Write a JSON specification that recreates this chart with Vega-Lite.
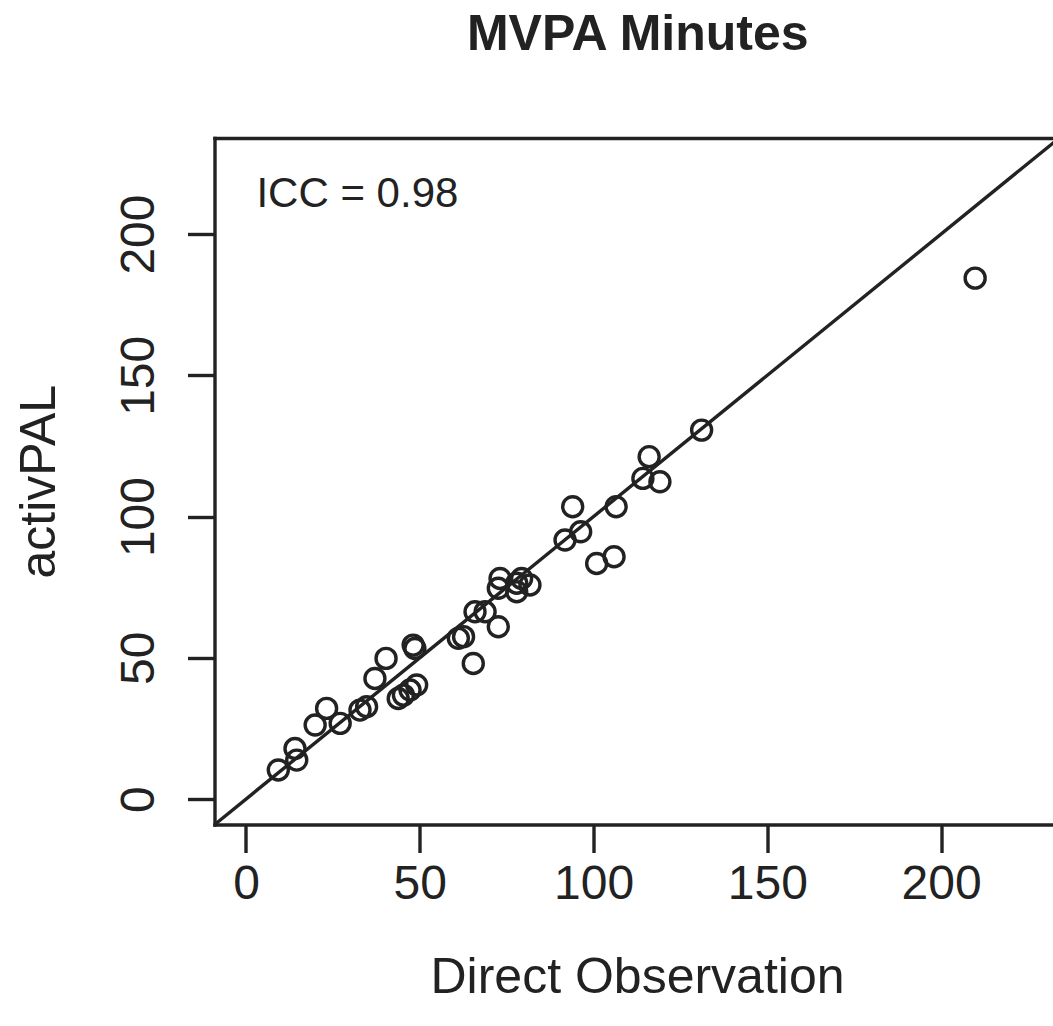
{
  "$schema": "https://vega.github.io/schema/vega-lite/v6.json",
  "width": 838.5,
  "height": 686.5,
  "autosize": {"type": "none"},
  "padding": {"left": 214.5, "top": 138, "right": 0, "bottom": 201.5},
  "background": "white",
  "title": {
    "text": "MVPA Minutes",
    "fontSize": 50,
    "fontWeight": "bold",
    "font": "Liberation Sans",
    "color": "#222222",
    "anchor": "middle",
    "baseline": "alphabetic",
    "offset": 38,
    "dx": 4
  },
  "config": {
    "view": {"stroke": null},
    "font": "Liberation Sans"
  },
  "datasets": {
    "diag": [
      {"x": -30, "y": -30},
      {"x": 260, "y": 260}
    ],
    "points": [
      {"x": 9.3, "y": 10.3},
      {"x": 14.1, "y": 17.9},
      {"x": 14.6, "y": 13.8},
      {"x": 19.9, "y": 26.2},
      {"x": 23.2, "y": 32.1},
      {"x": 27.1, "y": 26.8},
      {"x": 32.8, "y": 31.5},
      {"x": 34.7, "y": 32.7},
      {"x": 37.1, "y": 42.7},
      {"x": 40.3, "y": 49.8},
      {"x": 43.8, "y": 35.6},
      {"x": 45.3, "y": 36.8},
      {"x": 47.2, "y": 38.6},
      {"x": 49.1, "y": 40.4},
      {"x": 48.1, "y": 54.5},
      {"x": 48.6, "y": 53.3},
      {"x": 61.1, "y": 56.9},
      {"x": 62.6, "y": 57.5},
      {"x": 65.4, "y": 48.0},
      {"x": 65.9, "y": 66.3},
      {"x": 68.8, "y": 66.3},
      {"x": 72.6, "y": 61.0},
      {"x": 73.1, "y": 78.1},
      {"x": 72.6, "y": 74.6},
      {"x": 77.9, "y": 76.4},
      {"x": 79.3, "y": 78.1},
      {"x": 81.7, "y": 75.8},
      {"x": 77.9, "y": 73.4},
      {"x": 91.8, "y": 91.7},
      {"x": 94.0, "y": 103.5},
      {"x": 96.3, "y": 94.6},
      {"x": 100.9, "y": 83.4},
      {"x": 105.9, "y": 85.8},
      {"x": 106.5, "y": 103.5},
      {"x": 114.2, "y": 113.5},
      {"x": 116.0, "y": 121.2},
      {"x": 119.1, "y": 112.3},
      {"x": 131.1, "y": 130.6},
      {"x": 209.8, "y": 184.4}
    ],
    "annot": [
      {"x": 3.0, "y": 209.5, "label": "ICC = 0.98"}
    ]
  },
  "layer": [
    {
      "data": {"name": "diag"},
      "mark": {"type": "line", "clip": true, "color": "#222222", "strokeWidth": 3.4},
      "encoding": {
        "x": {
          "field": "x", "type": "quantitative",
          "scale": {"domain": [-9.06, 232.2], "nice": false, "zero": false},
          "axis": {
            "orient": "top", "labels": false, "ticks": false, "grid": false,
            "domain": true, "domainColor": "#222222", "domainWidth": 3.4,
            "domainCap": "square", "title": null
          }
        },
        "y": {
          "field": "y", "type": "quantitative",
          "scale": {"domain": [-9.0, 234.0], "nice": false, "zero": false},
          "axis": {
            "title": "activPAL",
            "values": [0, 50, 100, 150, 200],
            "grid": false,
            "domain": true, "domainColor": "#222222", "domainWidth": 3.4, "domainCap": "square",
            "ticks": true, "tickColor": "#222222", "tickWidth": 3.4, "tickSize": 27,
            "labelFont": "Liberation Sans", "labelFontSize": 48, "labelColor": "#222222",
            "labelAngle": -90, "labelAlign": "center", "labelBaseline": "alphabetic",
            "labelPadding": 34.5, "labelOverlap": false, "labelFlush": false,
            "titleFont": "Liberation Sans", "titleFontSize": 50, "titleFontWeight": "normal",
            "titleColor": "#222222", "titleAngle": -90, "titleAlign": "center",
            "titleBaseline": "alphabetic", "titleX": -160.5, "titleY": 343.25
          }
        }
      }
    },
    {
      "data": {"name": "points"},
      "mark": {"type": "point", "shape": "circle", "filled": false, "stroke": "#222222", "strokeWidth": 3.4, "size": 400, "opacity": 1},
      "encoding": {
        "x": {
          "field": "x", "type": "quantitative",
          "scale": {"domain": [-9.06, 232.2], "nice": false, "zero": false},
          "axis": {
            "orient": "bottom",
            "title": "Direct Observation",
            "values": [0, 50, 100, 150, 200],
            "grid": false,
            "domain": true, "domainColor": "#222222", "domainWidth": 3.4, "domainCap": "square",
            "ticks": true, "tickColor": "#222222", "tickWidth": 3.4, "tickSize": 28,
            "labelFont": "Liberation Sans", "labelFontSize": 48, "labelColor": "#222222",
            "labelAngle": 0, "labelAlign": "center", "labelBaseline": "alphabetic",
            "labelPadding": 45.6, "labelOverlap": false, "labelFlush": false,
            "titleFont": "Liberation Sans", "titleFontSize": 50, "titleFontWeight": "normal",
            "titleColor": "#222222", "titleAlign": "center", "titleBaseline": "alphabetic",
            "titleX": 422.5, "titleY": 168
          }
        },
        "y": {
          "field": "y", "type": "quantitative",
          "scale": {"domain": [-9.0, 234.0], "nice": false, "zero": false},
          "axis": {
            "title": "activPAL",
            "values": [0, 50, 100, 150, 200],
            "grid": false,
            "domain": true, "domainColor": "#222222", "domainWidth": 3.4, "domainCap": "square",
            "ticks": true, "tickColor": "#222222", "tickWidth": 3.4, "tickSize": 27,
            "labelFont": "Liberation Sans", "labelFontSize": 48, "labelColor": "#222222",
            "labelAngle": -90, "labelAlign": "center", "labelBaseline": "alphabetic",
            "labelPadding": 34.5, "labelOverlap": false, "labelFlush": false,
            "titleFont": "Liberation Sans", "titleFontSize": 50, "titleFontWeight": "normal",
            "titleColor": "#222222", "titleAngle": -90, "titleAlign": "center",
            "titleBaseline": "alphabetic", "titleX": -160.5, "titleY": 343.25
          }
        }
      }
    },
    {
      "data": {"name": "annot"},
      "mark": {"type": "text", "align": "left", "baseline": "alphabetic", "fontSize": 42, "font": "Liberation Sans", "color": "#222222"},
      "encoding": {
        "x": {"field": "x", "type": "quantitative", "scale": {"domain": [-9.06, 232.2], "nice": false, "zero": false}, "axis": null},
        "y": {
          "field": "y", "type": "quantitative",
          "scale": {"domain": [-9.0, 234.0], "nice": false, "zero": false},
          "axis": {
            "title": "activPAL",
            "values": [0, 50, 100, 150, 200],
            "grid": false,
            "domain": true, "domainColor": "#222222", "domainWidth": 3.4, "domainCap": "square",
            "ticks": true, "tickColor": "#222222", "tickWidth": 3.4, "tickSize": 27,
            "labelFont": "Liberation Sans", "labelFontSize": 48, "labelColor": "#222222",
            "labelAngle": -90, "labelAlign": "center", "labelBaseline": "alphabetic",
            "labelPadding": 34.5, "labelOverlap": false, "labelFlush": false,
            "titleFont": "Liberation Sans", "titleFontSize": 50, "titleFontWeight": "normal",
            "titleColor": "#222222", "titleAngle": -90, "titleAlign": "center",
            "titleBaseline": "alphabetic", "titleX": -160.5, "titleY": 343.25
          }
        },
        "text": {"field": "label", "type": "nominal"}
      }
    }
  ],
  "resolve": {"axis": {"x": "independent"}}
}
